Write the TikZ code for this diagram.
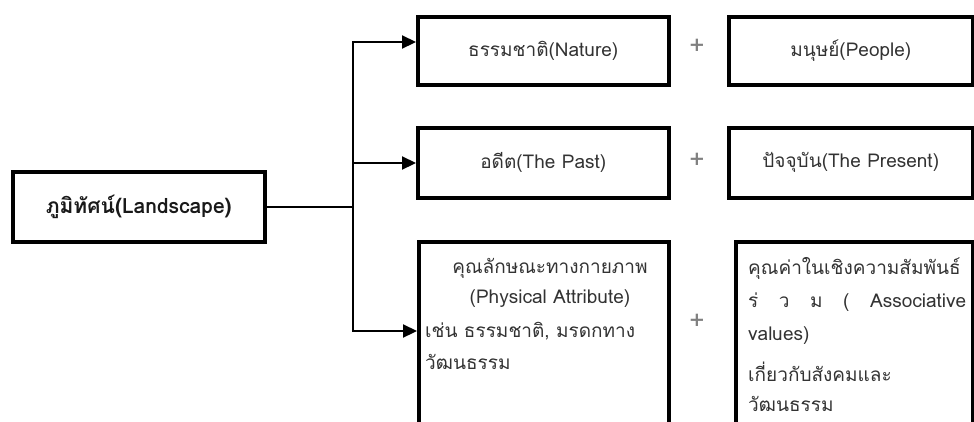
\documentclass[tikz,border=0pt]{standalone}
\usepackage{fontspec}
\setmainfont[Script=Thai]{Loma}
\usetikzlibrary{arrows.meta}
\begin{document}
\begin{tikzpicture}[x=1pt,y=-1pt,
  box/.style={draw=black, line width=3.5pt, inner sep=0pt, anchor=north west,
    font=\fontsize{19}{22}\selectfont, text=black!80},
  conn/.style={line width=2.2pt},
  arr/.style={conn,-{Triangle[length=14pt,width=13pt]}},
  txt/.style={font=\fontsize{19}{22}\selectfont, inner sep=0pt, text=black!80},
  plussign/.style={font=\fontsize{26}{26}\selectfont, text=black!50, inner sep=0pt}]
\clip (0,0) rectangle (974,421);
\useasboundingbox (0,0) rectangle (974,421);
% boxes
\node[box, minimum width=252pt, minimum height=70pt, font=\fontsize{21}{24}\selectfont\bfseries, text=black!90] (land) at (11,170) {ภูมิทัศน์(Landscape)};
\node[box, minimum width=251pt, minimum height=68pt] (nat) at (416,15) {ธรรมชาติ(Nature)};
\node[box, minimum width=244pt, minimum height=68pt] (ppl) at (727,15) {มนุษย์(People)};
\node[box, minimum width=251pt, minimum height=70pt] (past) at (416,126) {อดีต(The Past)};
\node[box, minimum width=244pt, minimum height=70pt] (pres) at (727,126) {ปัจจุบัน(The Present)};
\node[box, minimum width=250pt, minimum height=220pt] (phys) at (417,240) {};
\node[box, minimum width=237pt, minimum height=220pt] (assoc) at (734,240) {};
% plus signs
\node[plussign] (p1) at (697,47) {+};
\node[plussign] (p2) at (697,161) {+};
\node[plussign] (p3) at (697,322) {+};
% texts in the lower boxes
\node[txt] (ph1) at (550,268) {คุณลักษณะทางกายภาพ};
\node[txt] (ph2) at (550,299) {(Physical Attribute)};
\node[txt, anchor=west] (ph3) at (425,331) {เช่น ธรรมชาติ, มรดกทาง};
\node[txt, anchor=west] (ph4) at (425,362) {วัฒนธรรม};
\node[txt, anchor=west] (as1) at (748,268) {คุณค่าในเชิงความสัมพันธ์};
\node[txt, anchor=west] (as2) at (748,302) {\makebox[218pt][l]{ร่\hfill ว\hfill ม\hfill (\hfill Associative}};
\node[txt, anchor=west] (as3) at (748,336) {values)};
\node[txt, anchor=west] (as4) at (748,372) {เกี่ยวกับสังคมและ};
\node[txt, anchor=west] (as5) at (748,404) {วัฒนธรรม};
% connectors
\coordinate (jt) at (353,42);
\coordinate (jm) at (353,163);
\coordinate (jb) at (353,331);
\draw[conn] (land.east) -- (land.east -| jt);
\draw[arr, line join=miter] (jb) -- (jt) -- (jt -| nat.west);
\draw[arr, line join=miter] (jt) -- (jb) -- (jb -| phys.west);
\draw[arr] (jm) -- (jm -| past.west);
\end{tikzpicture}
\end{document}
